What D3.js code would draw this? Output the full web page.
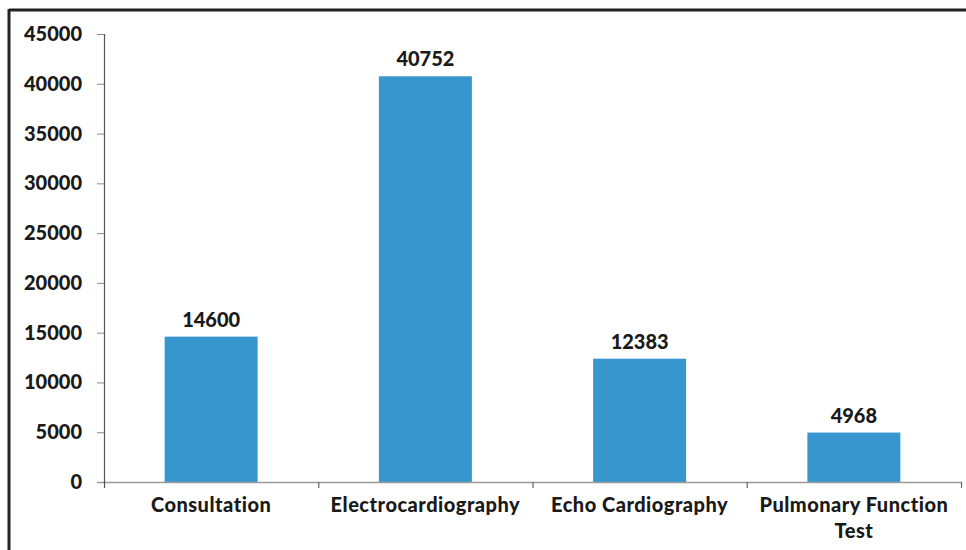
<!DOCTYPE html>
<html><head><meta charset="utf-8">
<script src="https://cdn.jsdelivr.net/npm/d3@7"></script>
<style>
html,body{margin:0;padding:0;background:#fff;}
text{font-family:Lato,"Open Sans",sans-serif;font-weight:900;fill:#1a1a1a;}
</style></head>
<body><svg id="c" width="966" height="550"></svg>
<script>
const categories = ["Consultation","Electrocardiography","Echo Cardiography","Pulmonary Function Test"];
const values = [14600, 40752, 12383, 4968];
const yTicks = [0,5000,10000,15000,20000,25000,30000,35000,40000,45000];

(function(){
const svg = d3.select("#c");
const pL = 104, pR = 961, pT = 34, pB = 482;
const fs = 20;

// frame
svg.append("line").attr("x1",9).attr("x2",966).attr("y1",10).attr("y2",10).attr("stroke","#222").attr("stroke-width",3);
svg.append("line").attr("x1",9).attr("x2",9).attr("y1",9).attr("y2",550).attr("stroke","#222").attr("stroke-width",3);

const x = d3.scaleBand().domain(categories).range([pL,pR]).paddingInner(0.566).paddingOuter(0.283);
const y = d3.scaleLinear().domain([0,45000]).range([pB,pT]);

// y ticks and labels
const yg = svg.append("g");
yg.selectAll("line.t").data(yTicks).join("line")
  .attr("x1",97).attr("x2",pL).attr("y1",d=>y(d)+0.5).attr("y2",d=>y(d)+0.5)
  .attr("stroke","#8c8c8c").attr("stroke-width",1);
yg.selectAll("text").data(yTicks).join("text")
  .attr("x",82).attr("y",d=>y(d)).attr("dy","0.35em").attr("text-anchor","end")
  .attr("font-size",fs).text(d=>d);

// bars
svg.selectAll("rect.bar").data(values).join("rect")
  .attr("x",(d,i)=>x(categories[i])).attr("width",x.bandwidth())
  .attr("y",d=>y(d)).attr("height",d=>y(0)-y(d))
  .attr("fill","#3796ce");

// value labels
svg.selectAll("text.v").data(values).join("text")
  .attr("x",(d,i)=>x(categories[i])+x.bandwidth()/2).attr("y",d=>y(d)-10)
  .attr("text-anchor","middle").attr("font-size",fs).text(d=>d);

// x axis line
svg.append("line").attr("x1",97).attr("x2",pR+1).attr("y1",pB+0.5).attr("y2",pB+0.5)
  .attr("stroke","#9a9a9a").attr("stroke-width",1.5);
// y axis line
svg.append("line").attr("x1",pL+0.5).attr("x2",pL+0.5).attr("y1",pT).attr("y2",pB+6)
  .attr("stroke","#555").attr("stroke-width",1.2);
// category boundary ticks
const bounds = categories.map(c=>x(c)-x.step()*0.283).slice(1).concat([pR]);
svg.selectAll("line.ct").data(bounds).join("line")
  .attr("x1",d=>d+0.5).attr("x2",d=>d+0.5).attr("y1",pB).attr("y2",pB+6)
  .attr("stroke","#666").attr("stroke-width",1.2);

// category labels
const wrap = {"Pulmonary Function Test":["Pulmonary Function","Test"]};
categories.forEach(c=>{
  const lines = wrap[c] || [c];
  const cx = x(c)+x.bandwidth()/2;
  const t = svg.append("text").attr("text-anchor","middle").attr("font-size",fs)
    .attr("letter-spacing",0.5).attr("x",cx).attr("y",512);
  lines.forEach((l,i)=>t.append("tspan").attr("x",cx).attr("dy",i?26:0).text(l));
});
})();
</script></body></html>
